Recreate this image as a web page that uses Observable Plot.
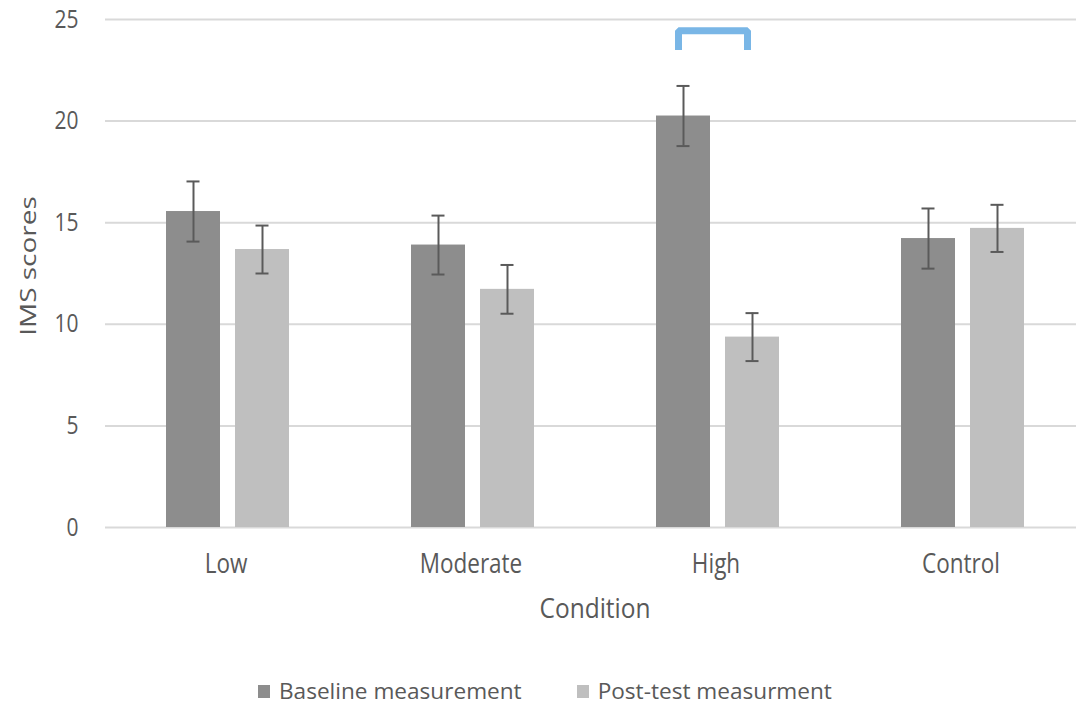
<!DOCTYPE html>
<html>
<head>
<meta charset="utf-8">
<script src="https://cdn.jsdelivr.net/npm/d3@7"></script>
<script src="https://cdn.jsdelivr.net/npm/@observablehq/plot@0.6"></script>
<style>
  html, body { margin: 0; padding: 0; background: #fff; }
  body { width: 1076px; height: 704px; overflow: hidden; position: relative; font-family: "Open Sans", sans-serif; color: #595959; }
  #chart { position: absolute; left: 0; top: 0; }
  #chart svg { max-width: none !important; }
  .xlabel { position: absolute; left: 595px; top: 607px; transform: translate(-50%, -50%) scaleY(1.15); font-size: 24.5px; white-space: nowrap; }
  .ylabel { position: absolute; left: 27px; top: 266px; transform: translate(-50%, -50%) rotate(-90deg) scaleX(1.27); font-size: 22px; white-space: nowrap; }
  .legend { position: absolute; left: 258px; top: 679px; height: 24px; display: flex; align-items: center; font-size: 22.6px; line-height: 1; white-space: nowrap; }
  .legend .item { display: flex; align-items: center; }
  .legend .sw { width: 12px; height: 13px; margin-right: 9px; }
</style>
</head>
<body>
<div id="chart"></div>
<div class="ylabel">IMS scores</div>
<div class="xlabel">Condition</div>
<div class="legend" id="legend"></div>
<script>
// ---- data ----
const conditions = ["Low", "Moderate", "High", "Control"];
const seriesNames = ["Baseline measurement", "Post-test measurment"];
const baseline = [15.55, 13.9, 20.25, 14.22];
const baselineErr = [1.48, 1.45, 1.48, 1.48];
const posttest = [13.68, 11.72, 9.37, 14.72];
const posttestErr = [1.18, 1.2, 1.18, 1.16];
const yTicks = [0, 5, 10, 15, 20, 25];
const seriesColors = ["#8d8d8d", "#bfbfbf"];
// significance bracket over "High"
const bracketCondition = "High";
const bracketTop = 24.45;
const bracketBottom = 23.5;

// ---- build table ----
const rows = [];
conditions.forEach((c, i) => {
  rows.push({condition: c, series: seriesNames[0], value: baseline[i], err: baselineErr[i]});
  rows.push({condition: c, series: seriesNames[1], value: posttest[i], err: posttestErr[i]});
});
const bracket = [
  {condition: bracketCondition, series: seriesNames[0], y: bracketBottom},
  {condition: bracketCondition, series: seriesNames[0], y: bracketTop},
  {condition: bracketCondition, series: seriesNames[1], y: bracketTop},
  {condition: bracketCondition, series: seriesNames[1], y: bracketBottom}
];

const chart = Plot.plot({
  width: 1086,
  height: 600,
  marginLeft: 104,
  marginRight: 0,
  marginTop: 19,
  marginBottom: 73,
  style: {fontFamily: "'Open Sans', sans-serif", fontSize: "21px", color: "#595959", background: "white", overflow: "visible", maxWidth: "none"},
  fx: {domain: conditions, padding: 0, label: null, axis: "bottom", tickSize: 0, tickPadding: 26},
  x: {domain: seriesNames, paddingInner: 0.216, paddingOuter: 0.874, axis: null},
  y: {domain: [0, 25], ticks: yTicks, tickSize: 0, tickPadding: 27, label: null},
  color: {domain: seriesNames, range: seriesColors},
  marks: [
    Plot.ruleY(yTicks, {stroke: "#d9d9d9", strokeWidth: 2}),
    Plot.barY(rows, {fx: "condition", x: "series", y: "value", fill: "series"}),
    Plot.ruleX(rows, {fx: "condition", x: "series", y1: d => d.value - d.err, y2: d => d.value + d.err, stroke: "#5a5a5a", strokeWidth: 2}),
    Plot.tickY(rows, {fx: "condition", x: "series", y: d => d.value - d.err, insetLeft: 20.5, insetRight: 20.5, stroke: "#5a5a5a", strokeWidth: 2}),
    Plot.tickY(rows, {fx: "condition", x: "series", y: d => d.value + d.err, insetLeft: 20.5, insetRight: 20.5, stroke: "#5a5a5a", strokeWidth: 2}),
    Plot.line(bracket, {fx: "condition", x: "series", y: "y", dx: -5, stroke: "#79b6e6", strokeWidth: 7, strokeLinejoin: "miter", strokeLinecap: "butt"})
  ]
});
document.getElementById("chart").appendChild(chart);

// category labels slightly larger
chart.querySelectorAll('g[aria-label="fx-axis tick label"]').forEach(g => {
  g.setAttribute("font-size", "22.5");
  g.style.fontSize = "22.5px";
  g.querySelectorAll("text").forEach(t => { t.style.fontSize = "22.5px"; });
});

// stretch axis tick labels vertically to match the reference's tall glyphs
function stretch(selector, shiftX) {
  chart.querySelectorAll(selector).forEach(t => {
    const tr = t.getAttribute("transform") || "";
    const xs = t.getAttribute("x"), ys = t.getAttribute("y");
    const x = xs && /^-?[\d.]+$/.test(xs) ? +xs : 0;
    const y = ys && /^-?[\d.]+$/.test(ys) ? +ys : 0;
    t.setAttribute("transform", `${tr} translate(${x + shiftX},${y}) scale(1,1.2) translate(${-x},${-y})`);
  });
}
stretch('g[aria-label="fx-axis tick label"] text', -2);
stretch('g[aria-label="y-axis tick label"] text', 0);

// legend
const legend = document.getElementById("legend");
seriesNames.forEach((name, i) => {
  const item = document.createElement("div");
  item.className = "item";
  if (i > 0) item.style.marginLeft = "55px";
  const sw = document.createElement("div");
  sw.className = "sw";
  sw.style.background = seriesColors[i];
  const t = document.createElement("span");
  t.textContent = name;
  item.appendChild(sw);
  item.appendChild(t);
  legend.appendChild(item);
});
</script>
</body>
</html>
